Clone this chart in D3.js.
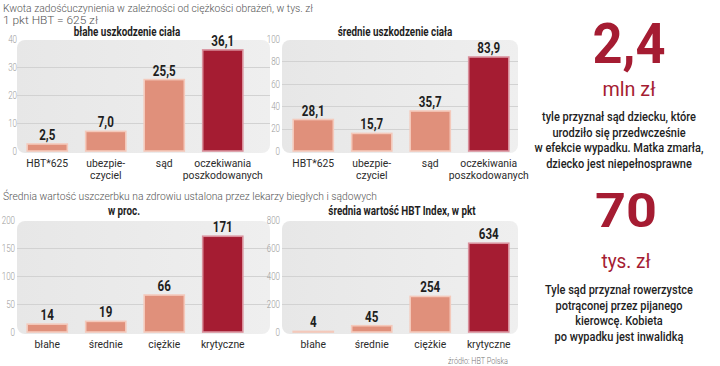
<!DOCTYPE html>
<html><head><meta charset="utf-8">
<script src="https://cdn.jsdelivr.net/npm/d3@7"></script>
<style>
html,body{margin:0;padding:0;background:#fff;}
svg{display:block;font-family:Roboto,"Noto Sans",sans-serif;}
</style></head>
<body>
<svg id="c" width="720" height="366"></svg>
<script>
// ---- data ----
const topCategories = ["HBT*625", "ubezpie-\nczyciel", "sąd", "oczekiwania\nposzkodowanych"];
const lightInjuryValues = [2.5, 7.0, 25.5, 36.1];
const mediumInjuryValues = [28.1, 15.7, 35.7, 83.9];
const bottomCategories = ["błahe", "średnie", "ciężkie", "krytyczne"];
const percentValues = [14, 19, 66, 171];
const hbtIndexValues = [4, 45, 254, 634];
const lightTicks = [0, 10, 20, 30, 40];
const mediumTicks = [0, 20, 40, 60, 80, 100];
const percentTicks = [0, 50, 100, 150, 200];
const hbtTicks = [0, 200, 400, 600, 800];
const panelTitles = ["błahe uszkodzenie ciała", "średnie uszkodzenie ciała", "w proc.", "średnia wartość HBT Index, w pkt"];
const header1 = "Kwota zadośćuczynienia w zależności od ciężkości obrażeń, w tys. zł";
const header2 = "1 pkt HBT = 625 zł";
const header3 = "Średnia wartość uszczerbku na zdrowiu ustalona przez lekarzy biegłych i sądowych";
const source = "źródło: HBT Polska";
const fact1Big = "2,4", fact1Unit = "mln zł";
const fact1Lines = ["tyle przyznał sąd dziecku, które", "urodziło się przedwcześnie", "w efekcie wypadku. Matka zmarła,", "dziecko jest niepełnosprawne"];
const fact2Big = "70", fact2Unit = "tys. zł";
const fact2Lines = ["Tyle sąd przyznał rowerzystce", "potrąconej przez pijanego", "kierowcę. Kobieta", "po wypadku jest inwalidką"];

// ---- styles ----
const RED = "#a51c32", SALMON = "#e0907b";
const svg = d3.select("#c");

function fit(sel, w) {
  sel.attr("textLength", w).attr("lengthAdjust", "spacingAndGlyphs");
}
function squeeze(sel, f) {
  sel.each(function () {
    const w = this.getComputedTextLength();
    d3.select(this).attr("textLength", w * f).attr("lengthAdjust", "spacingAndGlyphs");
  });
}

const fmt1 = v => d3.format(".1f")(v).replace(".", ",");
const fmt0 = v => d3.format("d")(v);

function panel(o) {
  const g = svg.append("g");
  const y = d3.scaleLinear().domain([0, o.ticks[o.ticks.length - 1]]).range(o.yRange);
  const x = d3.scaleBand().domain(o.cats).range(o.xRange).paddingInner(0.28).paddingOuter(0.14);
  const top = y(o.ticks[o.ticks.length - 1]);
  // background
  g.append("rect").attr("x", o.bg[0]).attr("y", top + 1).attr("width", o.bg[1] - o.bg[0])
    .attr("height", y(0) - top + 1).attr("rx", 8).attr("fill", "url(#bgGrad)");
  // grid
  g.selectAll("line.grid").data(o.ticks.slice(1, -1)).join("line")
    .attr("x1", o.bg[0]).attr("x2", o.bg[1]).attr("y1", d => Math.round(y(d)) + 0.5).attr("y2", d => Math.round(y(d)) + 0.5)
    .attr("stroke", "#d2d2d2").attr("stroke-width", 1);
  // axis labels
  const ax = d3.axisLeft(y).tickValues(o.ticks).tickSize(0).tickPadding(0);
  const axg = g.append("g").attr("transform", `translate(${o.tickX},0)`).call(ax);
  axg.select(".domain").remove();
  axg.selectAll("text").attr("fill", "#9a9a9a").attr("font-size", 10).attr("font-weight", 300)
    .attr("font-family", "Roboto").call(s => squeeze(s, 0.8));
  // bars
  g.selectAll("rect.bar").data(o.values).join("rect")
    .attr("x", (d, i) => x(o.cats[i]) + 1).attr("width", x.bandwidth() - 2)
    .attr("y", d => y(d)).attr("height", d => Math.max(0.6, y(0) - y(d)))
    .attr("fill", (d, i) => i === 3 ? RED : SALMON)
    .attr("stroke", (d, i) => i === 3 ? "#d9909c" : "#f4c9bb").attr("stroke-width", 1.6);
  // value labels
  const vl = g.selectAll("text.val").data(o.values).join("text")
    .attr("x", (d, i) => x(o.cats[i]) + x.bandwidth() / 2).attr("y", d => y(d) - 4)
    .attr("text-anchor", "middle").attr("font-size", 14.5).attr("font-weight", 700)
    .attr("fill", "#1e1e1e").text(o.fmt);
  squeeze(vl, 0.8);
  // categories
  o.cats.forEach((c, i) => {
    c.split("\n").forEach((line, j) => {
      g.append("text").attr("x", x(c) + x.bandwidth() / 2).attr("y", y(0) + 16 + j * 12)
        .attr("text-anchor", "middle").attr("font-size", 11.5).attr("fill", "#2b2b2b").text(line)
        .call(s => squeeze(s, 0.9));
    });
  });
  // title
  g.append("text").attr("x", o.titleX).attr("y", o.titleY).attr("text-anchor", "middle")
    .attr("font-size", 12).attr("font-weight", 700).attr("fill", "#1e1e1e").text(o.title)
    .call(s => squeeze(s, 0.82));
}

const defs = svg.append("defs");
const lg = defs.append("linearGradient").attr("id", "bgGrad").attr("x1", 0).attr("x2", 1).attr("y1", 0).attr("y2", 0);
lg.append("stop").attr("offset", 0).attr("stop-color", "#e7e7e7");
lg.append("stop").attr("offset", 1).attr("stop-color", "#efefef");

panel({cats: topCategories, values: lightInjuryValues, ticks: lightTicks, yRange: [151, 39], xRange: [18, 252],
  bg: [17, 270], tickX: 17, fmt: fmt1, title: panelTitles[0], titleX: 127, titleY: 36});
panel({cats: topCategories, values: mediumInjuryValues, ticks: mediumTicks, yRange: [151, 39], xRange: [284, 518],
  bg: [282, 518], tickX: 280, fmt: fmt1, title: panelTitles[1], titleX: 395, titleY: 36});
panel({cats: bottomCategories, values: percentValues, ticks: percentTicks, yRange: [332, 220], xRange: [18, 252],
  bg: [17, 270], tickX: 15, fmt: fmt0, title: panelTitles[2], titleX: 124, titleY: 215});
panel({cats: bottomCategories, values: hbtIndexValues, ticks: hbtTicks, yRange: [332, 220], xRange: [284, 518],
  bg: [282, 518], tickX: 280, fmt: fmt0, title: panelTitles[3], titleX: 402, titleY: 215});

// headers
svg.append("text").attr("x", 3).attr("y", 12).attr("font-size", 11.5).attr("font-weight", 300).attr("fill", "#555").text(header1).call(s => fit(s, 310));
svg.append("text").attr("x", 3).attr("y", 24).attr("font-size", 11.5).attr("font-weight", 300).attr("fill", "#555").text(header2).call(s => fit(s, 95));
svg.append("text").attr("x", 3).attr("y", 200).attr("font-size", 11.5).attr("font-weight", 300).attr("fill", "#555").text(header3).call(s => fit(s, 374));
svg.append("text").attr("x", 508).attr("y", 364).attr("text-anchor", "end").attr("font-size", 9.5).attr("font-weight", 300).attr("fill", "#777").text(source).call(s => fit(s, 60));

// facts
function fact(big, unit, lines, o) {
  svg.append("text").attr("x", o.cx).attr("y", o.bigY).attr("text-anchor", "middle").attr("font-size", o.bigSize)
    .attr("font-weight", 700).attr("fill", RED).text(big).call(s => fit(s, o.bigW));
  svg.append("text").attr("x", o.cx).attr("y", o.unitY).attr("text-anchor", "middle").attr("font-size", 21)
    .attr("font-weight", 400).attr("fill", RED).text(unit).call(s => fit(s, o.unitW));
  lines.forEach((l, i) => {
    svg.append("text").attr("x", o.tx).attr("y", o.lineY + i * 15.5).attr("text-anchor", "middle")
      .attr("font-size", 12.5).attr("font-weight", 500).attr("fill", "#222").text(l).call(s => squeeze(s, 0.88));
  });
}
fact(fact1Big, fact1Unit, fact1Lines, {cx: 629, bigY: 63, bigSize: 56, bigW: 73, unitY: 96, unitW: 53, tx: 619, lineY: 121});
fact(fact2Big, fact2Unit, fact2Lines, {cx: 626, bigY: 227, bigSize: 48, bigW: 62, unitY: 268, unitW: 49, tx: 619, lineY: 294});
</script>
</body></html>
